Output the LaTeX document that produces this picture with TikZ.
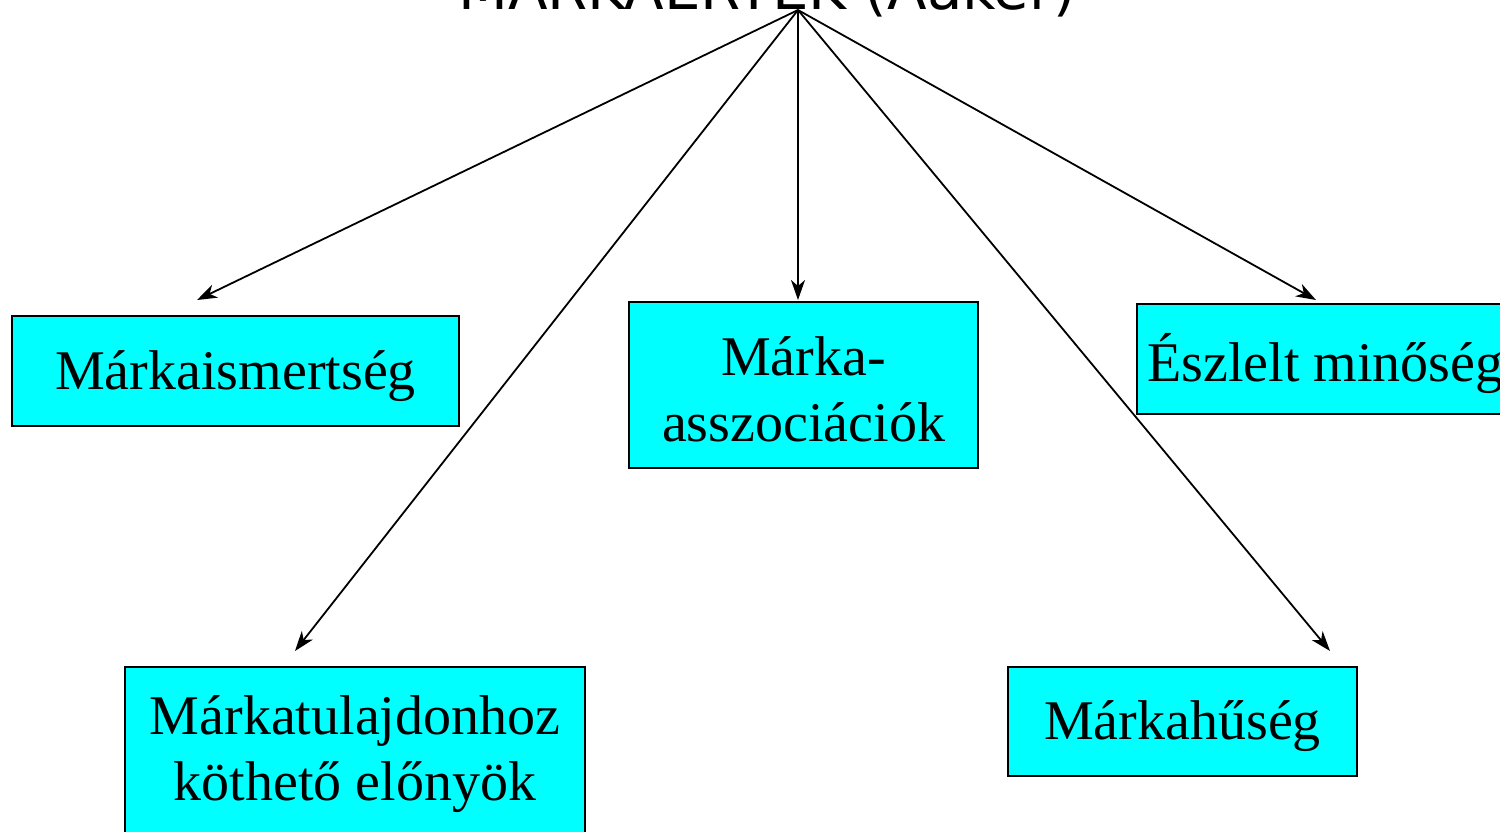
\documentclass[tikz,border=0pt]{standalone}
\usepackage{fontspec}
\setmainfont{Liberation Serif}
\newfontfamily\titlefont{DejaVu Sans}
\usetikzlibrary{arrows.meta}
\definecolor{boxcyan}{RGB}{0,255,255}
\begin{document}
\begin{tikzpicture}[x=0.5pt,y=-0.5pt,
  boxnode/.style={draw=black, line width=1pt, fill=boxcyan, rectangle, inner sep=0pt},
  boxtext/.style={inner sep=0pt, align=center, font=\fontsize{28}{33}\selectfont},
  arr/.style={line width=0.9pt, -{Stealth[length=10pt,width=7pt,inset=3pt]}}]
\useasboundingbox (0,0) rectangle (1500,831);
\node[anchor=base, font=\titlefont\fontsize{28.9}{34}\selectfont, inner sep=0pt] (title) at (767,9) {MÁRKAÉRTÉK (Aaker)};
\coordinate (apex) at (798,10);
\node[boxnode, minimum width=223.5pt, minimum height=55pt] (b1) at (235.5,371) {};
\node[boxtext, yshift=-2.5pt] (t1) at (b1.center) {Márkaismertség};
\node[boxnode, minimum width=174.5pt, minimum height=83pt] (b2) at (803.5,385) {};
\node[boxtext, yshift=-2pt] (t2) at (b2.center) {Márka-\\asszociációk};
\node[boxnode, minimum width=200pt, minimum height=55pt, anchor=north west] (b3) at (1136,303) {};
\node[boxtext, anchor=base west] (t3) at (1147,381) {Észlelt minőség};
\node[boxnode, minimum width=230pt, minimum height=83.5pt] (b4) at (355,750.5) {};
\node[boxtext, yshift=-2pt] (t4) at (b4.center) {Márkatulajdonhoz\\köthető előnyök};
\node[boxnode, minimum width=174.5pt, minimum height=54.5pt] (b5) at (1182.5,721.5) {};
\node[boxtext, yshift=-2.5pt] (t5) at (b5.center) {Márkahűség};
\coordinate (e1) at (197,300);
\coordinate (e4) at (295,651);
\coordinate (e2) at (798,300);
\coordinate (e3) at (1316,300);
\coordinate (e5) at (1330,651);
\draw[arr] (apex) -- (e1);
\draw[arr] (apex) -- (e4);
\draw[arr] (apex) -- (e2);
\draw[arr] (apex) -- (e3);
\draw[arr] (apex) -- (e5);
\end{tikzpicture}
\end{document}
